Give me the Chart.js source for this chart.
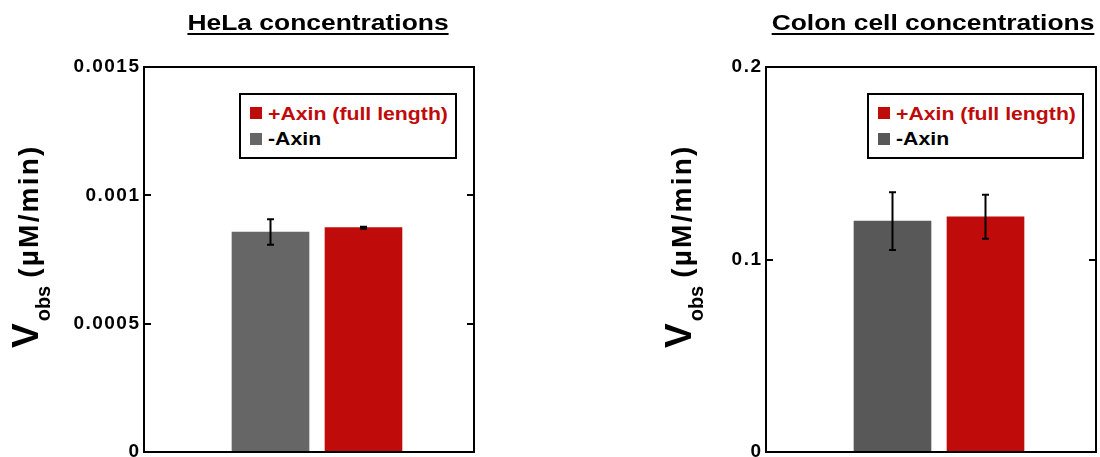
<!DOCTYPE html>
<html>
<head>
<meta charset="utf-8">
<script src="https://cdn.jsdelivr.net/npm/chart.js@4/dist/chart.umd.min.js"></script>
<style>
  html, body { margin: 0; padding: 0; background: #fff; }
  #wrap { position: relative; width: 1100px; height: 457px; overflow: hidden;
          font-family: "Liberation Sans", Arial, sans-serif; font-weight: bold; color: #000; }
  canvas { position: absolute; top: 0; }
  .title { position: absolute; white-space: nowrap; font-size: 22px; line-height: 22px;
           text-decoration: underline; text-decoration-thickness: 2px; text-underline-offset: 3px; }
  .ylab { position: absolute; white-space: nowrap; font-size: 37px; line-height: 40px;
          transform-origin: 0 0; transform: rotate(-90deg); }
  .ylab .sub { font-size: 20px; position: relative; top: 12px; margin-left: 2px; }
  .ylab .unit { font-size: 28px; letter-spacing: 2.2px; margin-left: 8px; }
  .legend { position: absolute; box-sizing: border-box; border: 2px solid #000; background: #fff; }
  .sw { position: absolute; width: 12px; height: 12px; }
  .lt { position: absolute; white-space: nowrap; font-size: 18px; line-height: 18px;
        transform-origin: 0 50%; transform: scaleX(1.18); }
</style>
</head>
<body>
<div id="wrap">
  <canvas id="c0" width="550" height="457" style="left:0px"></canvas>
  <canvas id="c1" width="550" height="457" style="left:550px"></canvas>
</div>
<script>
// ---------- data ----------
const categories = ['-Axin', '+Axin (full length)'];
const helaValues = [0.000857, 0.000874];
const helaErrors = [0.000050, 0.000004];
const colonValues = [0.1200, 0.1222];
const colonErrors = [0.0150, 0.0114];
const helaTicks = [0, 0.0005, 0.001, 0.0015];
const colonTicks = [0, 0.1, 0.2];
const titles = ['HeLa concentrations', 'Colon cell concentrations'];

// ---------- styles / layout ----------
const RED = '#c00b0b';
const panels = [
  { id: 'c0', values: helaValues, errors: helaErrors, ticks: helaTicks, title: titles[0],
    gray: '#666666', canvasLeft: 0, axisWidth: 144, padRight: 76,
    titleCenter: 317.5, legendLeft: 239, legendWidth: 218, ylabX: 6 },
  { id: 'c1', values: colonValues, errors: colonErrors, ticks: colonTicks, title: titles[1],
    gray: '#575857', canvasLeft: 550, axisWidth: 216, padRight: 4,
    titleCenter: 933, legendLeft: 867, legendWidth: 217, ylabX: 658.5 }
];

const wrap = document.getElementById('wrap');

const framePlugin = {
  id: 'frameAndErrors',
  beforeDraw(chart) {
    chart.ctx.letterSpacing = '1.5px';
  },
  afterDatasetsDraw(chart) {
    const p = chart.options.plugins.frameAndErrors;
    const { ctx } = chart;
    const y = chart.scales.y;
    ctx.save();
    ctx.strokeStyle = '#000';
    ctx.lineWidth = 2;
    chart.data.datasets.forEach((ds, i) => {
      const meta = chart.getDatasetMeta(i);
      meta.data.forEach((bar) => {
        const idx = ds.catIndex;
        const v = p.values[idx], e = p.errors[idx];
        const yt = y.getPixelForValue(v + e), yb = y.getPixelForValue(v - e);
        const x = bar.x;
        ctx.beginPath();
        ctx.moveTo(x, yt); ctx.lineTo(x, yb);
        ctx.moveTo(x - 3.5, yt); ctx.lineTo(x + 3.5, yt);
        ctx.moveTo(x - 3.5, yb); ctx.lineTo(x + 3.5, yb);
        ctx.stroke();
      });
    });
    ctx.restore();
  },
  afterDraw(chart) {
    const { ctx, chartArea: { left, top, right, bottom } } = chart;
    const y = chart.scales.y;
    ctx.save();
    ctx.strokeStyle = '#000';
    ctx.lineWidth = 2;
    ctx.strokeRect(left, top, right - left, bottom - top);
    y.ticks.forEach(t => {
      if (t.value <= y.min || t.value >= y.max) return;
      const py = Math.round(y.getPixelForValue(t.value));
      ctx.beginPath();
      ctx.moveTo(left, py); ctx.lineTo(left + 7, py);
      ctx.moveTo(right - 7, py); ctx.lineTo(right, py);
      ctx.stroke();
    });
    ctx.restore();
  }
};

panels.forEach(p => {
  const colors = [p.gray, RED];
  // legend order is red first, then gray
  const order = [1, 0];
  const datasets = order.map(i => ({
    label: categories[i],
    catIndex: i,
    data: [{ x: i, y: p.values[i] }],
    backgroundColor: colors[i],
    borderWidth: 0,
    barThickness: 77,
    grouped: false
  }));
  const tickVals = p.ticks;
  new Chart(document.getElementById(p.id), {
    type: 'bar',
    data: { datasets },
    options: {
      responsive: false,
      animation: false,
      devicePixelRatio: 1,
      layout: { padding: { top: 67, bottom: 5, left: 0, right: p.padRight } },
      plugins: {
        legend: { display: false },
        tooltip: { enabled: false },
        frameAndErrors: { values: p.values, errors: p.errors }
      },
      scales: {
        x: {
          type: 'linear', display: false, offset: false,
          min: -1.3602, max: 2.1882
        },
        y: {
          min: tickVals[0], max: tickVals[tickVals.length - 1],
          grid: { display: false, drawTicks: false },
          border: { display: false },
          afterBuildTicks(scale) { scale.ticks = tickVals.map(v => ({ value: v })); },
          afterFit(scale) { scale.width = p.axisWidth; scale.paddingTop = 0; scale.paddingBottom = 0; },
          ticks: {
            padding: 3.5,
            color: '#000',
            font: { family: 'Liberation Sans', weight: 'bold', size: 19 },
            callback: v => String(v)
          }
        }
      }
    },
    plugins: [framePlugin]
  });

  // title
  const t = document.createElement('div');
  t.className = 'title';
  t.textContent = p.title;
  t.style.left = p.titleCenter + 'px';
  t.style.top = '12px';
  t.style.transform = 'translateX(-50%) scaleX(1.2)';
  wrap.appendChild(t);

  // y label
  const yl = document.createElement('div');
  yl.className = 'ylab';
  yl.style.left = p.ylabX + 'px';
  yl.style.top = '348px';
  yl.innerHTML = 'V<span class="sub">obs</span><span class="unit">(µM/min)</span>';
  wrap.appendChild(yl);

  // legend
  const lg = document.createElement('div');
  lg.className = 'legend';
  lg.style.left = p.legendLeft + 'px';
  lg.style.top = '93px';
  lg.style.width = p.legendWidth + 'px';
  lg.style.height = '66px';
  const rowSwTop = [12, 37.5];
  const rowTxtTop = [9.5, 35];
  order.forEach((ci, r) => {
    const sw = document.createElement('div');
    sw.className = 'sw';
    sw.style.left = '9px';
    sw.style.top = rowSwTop[r] + 'px';
    sw.style.background = colors[ci];
    lg.appendChild(sw);
    const tx = document.createElement('div');
    tx.className = 'lt';
    tx.style.left = '27px';
    tx.style.top = rowTxtTop[r] + 'px';
    tx.style.color = ci === 1 ? RED : '#000';
    tx.textContent = categories[ci];
    lg.appendChild(tx);
  });
  wrap.appendChild(lg);
});
</script>
</body>
</html>
